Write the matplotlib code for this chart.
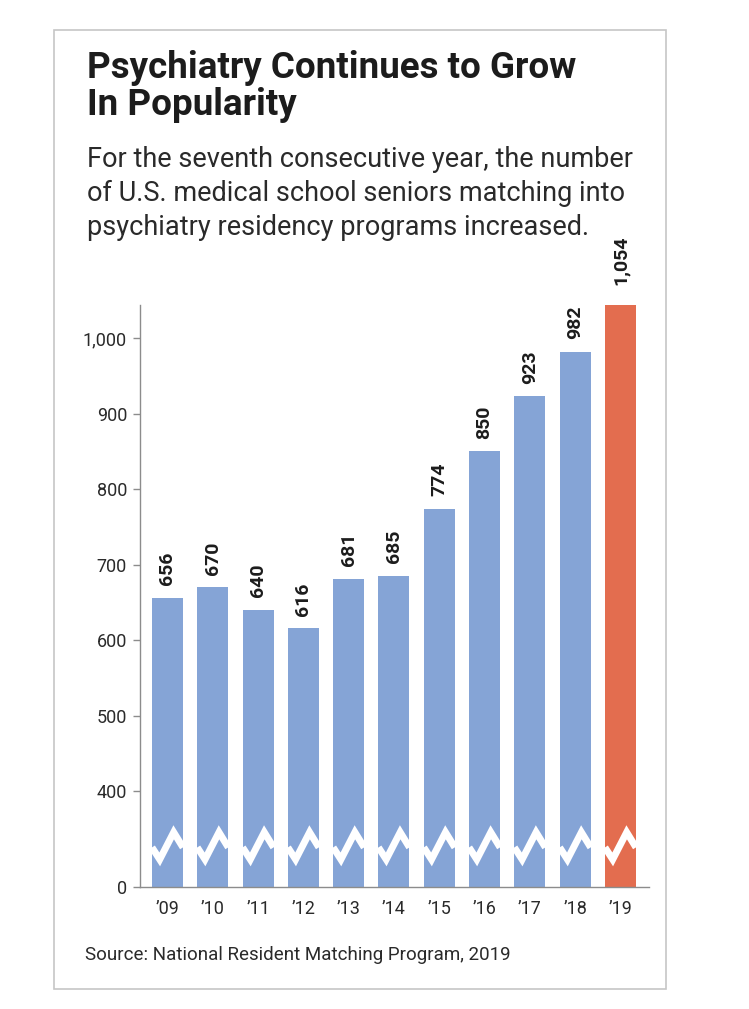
import numpy as np
import matplotlib.pyplot as plt
from matplotlib.patches import Rectangle

plt.rcParams['font.family'] = ['Roboto', 'DejaVu Sans']

years = ["\u201909", "\u201910", "\u201911", "\u201912", "\u201913", "\u201914",
         "\u201915", "\u201916", "\u201917", "\u201918", "\u201919"]
matches = [656, 670, 640, 616, 681, 685, 774, 850, 923, 982, 1054]
ytick_vals = [0, 400, 500, 600, 700, 800, 900, 1000]
subtitle = ["For the seventh consecutive year, the number",
            "of U.S. medical school seniors matching into",
            "psychiatry residency programs increased."]

blue = '#85a4d6'
red = '#e36d4f'
grey = '#8c8c8c'

# broken y axis: linear above 400, squashed between 0 and 400
BREAK = 400
ZERO_AT = 272.8
def fwd(v):
    v = np.asarray(v, dtype=float)
    return np.where(v >= BREAK, v, ZERO_AT + v * (BREAK - ZERO_AT) / BREAK)
def inv(t):
    t = np.asarray(t, dtype=float)
    return np.where(t >= BREAK, t, (t - ZERO_AT) * BREAK / (BREAK - ZERO_AT))

fig = plt.figure(figsize=(7.49, 10.09), dpi=100)
fig.patch.set_facecolor('white')

# outer frame
fig.patches.append(Rectangle((0.0721, 0.0198), 0.8171, 0.9504, transform=fig.transFigure,
                             fill=False, edgecolor='#c6c6c6', linewidth=1.2))

fig.text(0.1162, 0.9500, "Psychiatry Continues to Grow\nIn Popularity", fontsize=26.5,
         fontweight='bold', color='#1c1c1c', va='top', ha='left', linespacing=1.02)
# one text per subtitle line, baselines ~34 px apart
for k, line in enumerate(subtitle):
    fig.text(0.1162, 0.8345 - k * 0.0337, line, fontsize=19.5,
             color='#2a2a2a', va='baseline', ha='left')
fig.text(0.1135, 0.0535, "Source: National Resident Matching Program, 2019", fontsize=13.5,
         color='#2a2a2a', va='center', ha='left')

ax = fig.add_axes([0.1869, 0.1209, 0.6796, 0.5768])
ax.set_yscale('function', functions=(fwd, inv))

x = np.arange(len(years))
w = 0.685
colors = [blue] * (len(years) - 1) + [red]
ax.bar(x, matches, width=w, color=colors, zorder=2)

# zigzag break marks across each bar
for i in x:
    ax.plot([i - w / 2, i - w / 4, i + w / 5, i + w / 2], [165, 115, 228, 165],
            color='white', linewidth=5, solid_joinstyle='miter', solid_capstyle='butt', zorder=3)

for i, v in zip(x, matches):
    ax.annotate(f"{v:,}", (i, v), xytext=(0, 9), textcoords='offset points', rotation=90,
                ha='center', va='bottom', fontsize=14, fontweight='bold', color='#1c1c1c',
                annotation_clip=False)

ax.set_xlim(-0.607, 10.63)
ax.set_ylim(0, 1044)
ax.set_xticks(x, years)
ax.set_yticks(ytick_vals, [f"{t:,}" for t in ytick_vals])
ax.minorticks_off()
ax.tick_params(axis='x', length=0, pad=9, labelsize=13, labelcolor='#2a2a2a')
ax.tick_params(axis='y', length=5, width=1, color=grey, pad=4.3, labelsize=13, labelcolor='#2a2a2a')

for s in ['top', 'right']:
    ax.spines[s].set_visible(False)
for s in ['left', 'bottom']:
    ax.spines[s].set_color(grey)
    ax.spines[s].set_linewidth(1)

fig.savefig('out.png', dpi=100)
